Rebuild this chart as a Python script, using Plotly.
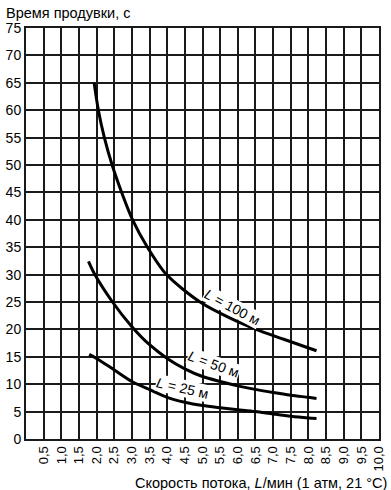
import plotly.graph_objects as go

# Data
L100_x = [1.93, 2.05, 2.22, 2.44, 2.71, 3.02, 3.44, 3.98, 4.93, 5.8, 6.52, 7.3, 8.23]
L100_y = [65.0, 60.0, 55.0, 50.0, 45.0, 40.0, 35.0, 30.0, 25.0, 22.0, 20.0, 18.2, 16.1]

L50_x = [1.77, 1.95, 2.45, 3.0, 3.5, 4.0, 4.5, 5.0, 5.5, 6.0, 6.5, 7.0, 7.5, 8.0, 8.23]
L50_y = [32.4, 30.0, 25.0, 20.5, 17.2, 14.7, 12.8, 11.4, 10.5, 9.7, 9.06, 8.5, 8.0, 7.6, 7.4]

L25_x = [1.79, 2.0, 2.5, 3.0, 3.5, 4.0, 4.5, 5.0, 5.5, 6.0, 6.5, 7.0, 7.5, 8.0, 8.23]
L25_y = [15.45, 14.7, 12.6, 10.5, 9.0, 7.6, 6.7, 6.1, 5.7, 5.35, 5.0, 4.56, 4.15, 3.85, 3.75]

x_ticks = [0.5 * i for i in range(1, 21)]
x_ticktext = [f"{v:.1f}".replace(".", ",") for v in x_ticks]
y_ticks = list(range(0, 80, 5))

labels = [
    ("<i>L</i> = 100 м", 5.84, 24.1, 28),
    ("<i>L</i> = 50 м", 5.3, 13.6, 20),
    ("<i>L</i> = 25 м", 4.43, 9.3, 13),
]

FONT = "Liberation Sans, Arial, sans-serif"

fig = go.Figure()
for xs, ys in [(L100_x, L100_y), (L50_x, L50_y), (L25_x, L25_y)]:
    fig.add_trace(go.Scatter(x=xs, y=ys, mode="lines",
                             line=dict(color="black", width=3, shape="spline", smoothing=0.8),
                             showlegend=False, hoverinfo="skip"))

for text, x, y, ang in labels:
    fig.add_annotation(x=x, y=y, xref="x", yref="y", text=text, showarrow=False,
                       textangle=ang, bgcolor="white", borderpad=0,
                       font=dict(family=FONT, size=14, color="black"))

fig.add_annotation(x=0, y=1, xref="paper", yref="paper", xanchor="left", yanchor="bottom",
                   xshift=-22, yshift=5, text="Время продувки, с", showarrow=False,
                   font=dict(family=FONT, size=14.5, color="black"))
fig.add_annotation(x=1, y=0, xref="paper", yref="paper", xanchor="right", yanchor="top",
                   xshift=10, yshift=-34, text="Скорость потока, <i>L</i>/мин (1 атм, 21 °C)",
                   showarrow=False, font=dict(family=FONT, size=14.5, color="black"))

fig.update_xaxes(range=[0, 10], tickvals=x_ticks, ticktext=x_ticktext, tickangle=-90,
                 showgrid=True, gridcolor="#1a1a1a", gridwidth=2,
                 showline=True, linecolor="#1a1a1a", linewidth=2, mirror=True,
                 zeroline=False, ticks="", automargin=False,
                 tickfont=dict(family=FONT, size=13, color="black"))
fig.update_yaxes(range=[0, 75], tickvals=y_ticks,
                 showgrid=True, gridcolor="#1a1a1a", gridwidth=2,
                 showline=True, linecolor="#1a1a1a", linewidth=2, mirror=True,
                 zeroline=False, ticks="", automargin=False,
                 tickfont=dict(family=FONT, size=14, color="black"))

fig.update_layout(width=391, height=490, margin=dict(l=26, r=12, t=28, b=51, autoexpand=False),
                  plot_bgcolor="white", paper_bgcolor="white", showlegend=False)

fig.write_html("out.html", config={"displayModeBar": False},
               post_script="document.body.style.margin='0';document.body.style.overflow='hidden';")
